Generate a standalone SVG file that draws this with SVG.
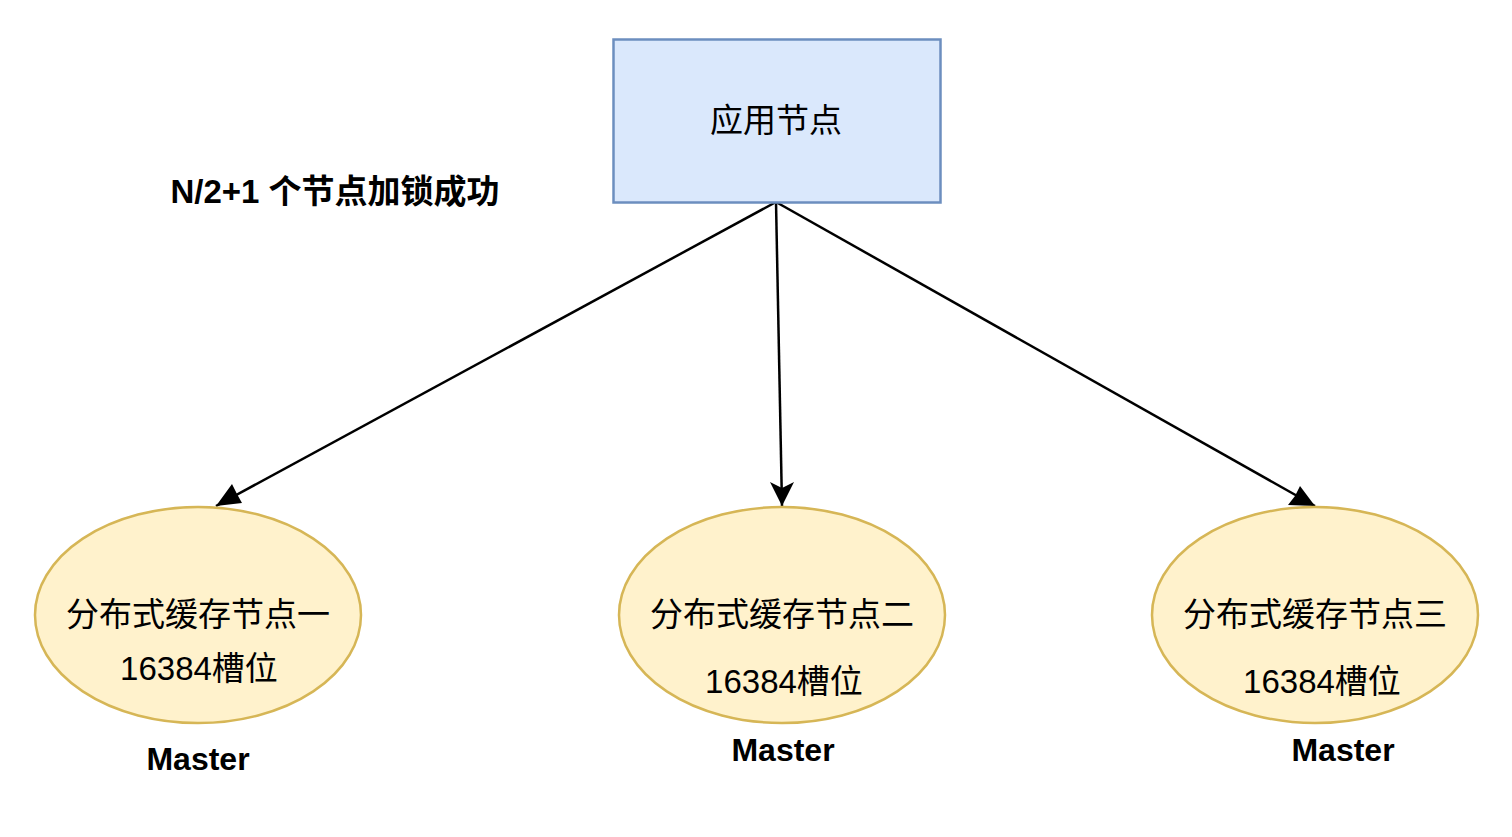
<svg xmlns="http://www.w3.org/2000/svg" width="1512" height="837" viewBox="0 0 1512 837">
<style>
text{font-family:"Liberation Sans","Noto Sans CJK SC",sans-serif;fill:#000;text-anchor:middle;dominant-baseline:central}
.t{font-size:33px}
.b{font-size:32px;font-weight:bold}
.lb{font-size:33px;font-weight:bold}
.cache{fill:#fff2cc;stroke:#d6b656;stroke-width:2.5}
.edge{stroke:#000;stroke-width:2.5;fill:none}
</style>
<rect width="1512" height="837" fill="#fff"/>
<g id="edges">
<path class="edge" d="M776,202 L216,506"/>
<path class="edge" d="M776,202 L782,506"/>
<path class="edge" d="M776,202 L1315,506"/>
<path d="M216,506 L232,484 L237,494 L242,503 Z" fill="#000"/>
<path d="M782,506 L770,482 L782,488 L794,482 Z" fill="#000"/>
<path d="M1315,506 L1288,505 L1295,496 L1300,486 Z" fill="#000"/>
</g>
<g id="app">
<rect x="613.5" y="39.5" width="327" height="163" fill="#dae8fc" stroke="#6c8ebf" stroke-width="2.5"/>
<text class="t" x="776" y="120">应用节点</text>
</g>
<g id="label">
<text class="lb" x="335" y="191">N/2+1 个节点加锁成功</text>
</g>
<g id="cache1">
<ellipse class="cache" cx="198" cy="615" rx="163" ry="108"/>
<text class="t" x="198" y="614">分布式缓存节点一</text>
<text class="t" x="199" y="668">16384槽位</text>
<text class="b" x="198" y="759">Master</text>
</g>
<g id="cache2">
<ellipse class="cache" cx="782" cy="615" rx="163" ry="108"/>
<text class="t" x="782" y="614">分布式缓存节点二</text>
<text class="t" x="784" y="681">16384槽位</text>
<text class="b" x="783" y="750">Master</text>
</g>
<g id="cache3">
<ellipse class="cache" cx="1315" cy="615" rx="163" ry="108"/>
<text class="t" x="1315" y="614">分布式缓存节点三</text>
<text class="t" x="1322" y="681">16384槽位</text>
<text class="b" x="1343" y="750">Master</text>
</g>
</svg>
